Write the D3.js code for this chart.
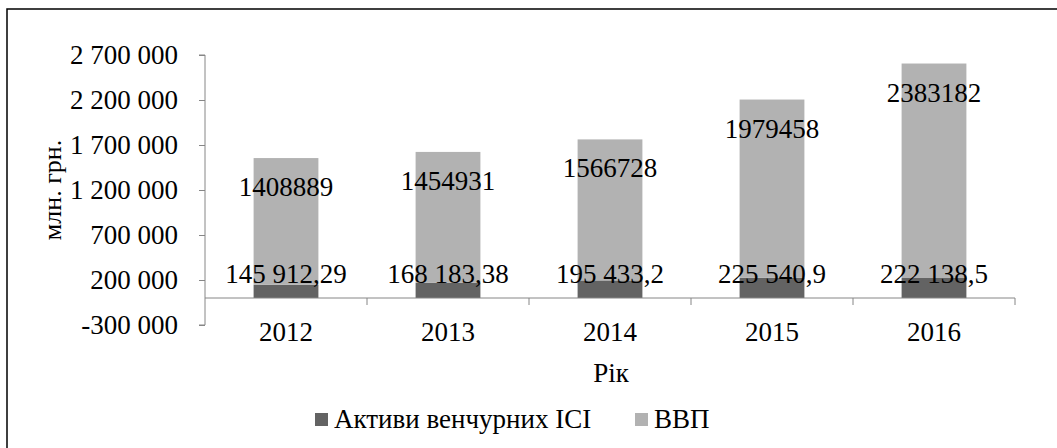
<!DOCTYPE html>
<html>
<head>
<meta charset="utf-8">
<script src="https://cdn.jsdelivr.net/npm/d3@7"></script>
</head>
<body style="margin:0; background:#fff">
<div id="chart"></div>
<script>
var years = ["2012", "2013", "2014", "2015", "2016"];
var assets = [145912.29, 168183.38, 195433.2, 225540.9, 222138.5];
var assetLabels = ["145 912,29", "168 183,38", "195 433,2", "225 540,9", "222 138,5"];
var gdp = [1408889, 1454931, 1566728, 1979458, 2383182];
var yTicks = [-300000, 200000, 700000, 1200000, 1700000, 2200000, 2700000];

var w = 1057, h = 448;
var darkColor = "#636363", lightColor = "#b2b2b2", axisColor = "#868686";
var font = "serif";

var svg = d3.select("#chart").append("svg")
    .attr("width", w)
    .attr("height", h)
    .style("font-family", font);

// outer frame (only left and top edges are in the picture)
svg.append("rect")
    .attr("x", 7).attr("y", 9)
    .attr("width", w + 10).attr("height", h + 10)
    .attr("fill", "none")
    .attr("stroke", "#000")
    .attr("stroke-width", 1.5);

var xScale = d3.scaleBand()
    .domain(years)
    .range([205, 1015]);

var yScale = d3.scaleLinear()
    .domain([-300000, 2700000])
    .range([325, 55]);

var barW = xScale.bandwidth() * 0.4;

// y axis
var fmt = function(d){ return d3.format(",")(d).replace(/,/g, " ").replace("\u2212", "-"); };
var yAxis = svg.append("g")
    .attr("transform", "translate(205,0)")
    .call(d3.axisLeft(yScale).tickValues(yTicks).tickSize(6).tickPadding(21).tickFormat(fmt));
yAxis.attr("font-family", font).attr("font-size", "27px");
yAxis.selectAll("text")
    .attr("font-family", font)
    .attr("font-size", "27px")
    .attr("fill", "#000");
yAxis.selectAll("line, path").attr("stroke", axisColor);
yAxis.select("path").attr("d", "M-6," + yScale(2700000) + "H0V" + yScale(-300000) + "H-6");

// bars
var groups = svg.selectAll(".bar").data(years).enter().append("g");

groups.append("rect")
    .attr("x", function(d){ return xScale(d) + (xScale.bandwidth() - barW) / 2; })
    .attr("y", function(d, i){ return yScale(assets[i]); })
    .attr("width", barW)
    .attr("height", function(d, i){ return yScale(0) - yScale(assets[i]); })
    .attr("fill", darkColor);

groups.append("rect")
    .attr("x", function(d){ return xScale(d) + (xScale.bandwidth() - barW) / 2; })
    .attr("y", function(d, i){ return yScale(assets[i] + gdp[i]); })
    .attr("width", barW)
    .attr("height", function(d, i){ return yScale(assets[i]) - yScale(assets[i] + gdp[i]); })
    .attr("fill", lightColor);

// x axis at zero
var xAxis = svg.append("g")
    .attr("transform", "translate(0," + yScale(0) + ")");
xAxis.append("line")
    .attr("x1", 205).attr("x2", 1015)
    .attr("stroke", axisColor);
xAxis.selectAll(".tk").data(years).enter().append("line")
    .attr("x1", function(d){ return xScale(d) + xScale.bandwidth(); })
    .attr("x2", function(d){ return xScale(d) + xScale.bandwidth(); })
    .attr("y1", 0).attr("y2", 7)
    .attr("stroke", axisColor);
svg.selectAll(".xl").data(years).enter().append("text")
    .attr("x", function(d){ return xScale(d) + xScale.bandwidth() / 2; })
    .attr("y", 341)
    .attr("text-anchor", "middle")
    .attr("font-family", font)
    .attr("font-size", "27px")
    .text(function(d){ return d; });

// data labels
groups.append("text")
    .attr("x", function(d){ return xScale(d) + xScale.bandwidth() / 2; })
    .attr("y", function(d, i){ return yScale(assets[i] + gdp[i]) + 38; })
    .attr("text-anchor", "middle")
    .attr("font-family", font)
    .attr("font-size", "27px")
    .text(function(d, i){ return gdp[i]; });

groups.append("text")
    .attr("x", function(d){ return xScale(d) + xScale.bandwidth() / 2; })
    .attr("y", yScale(0) - 15)
    .attr("text-anchor", "middle")
    .attr("font-family", font)
    .attr("font-size", "27px")
    .text(function(d, i){ return assetLabels[i]; });

// axis titles
svg.append("text")
    .attr("transform", "translate(55,190) rotate(-90)")
    .attr("text-anchor", "middle")
    .attr("dominant-baseline", "middle")
    .attr("font-family", font)
    .attr("font-size", "26px")
    .text("млн. грн.");

svg.append("text")
    .attr("x", 611).attr("y", 382)
    .attr("text-anchor", "middle")
    .attr("font-family", font)
    .attr("font-size", "27px")
    .text("Рік");

// legend
var legend = [
  {name: "Активи венчурних ІСІ", color: darkColor, x: 315},
  {name: "ВВП", color: lightColor, x: 635}
];
var lg = svg.selectAll(".lg").data(legend).enter().append("g");
lg.append("rect")
    .attr("x", function(d){ return d.x; }).attr("y", 413)
    .attr("width", 13).attr("height", 13)
    .attr("fill", function(d){ return d.color; });
lg.append("text")
    .attr("x", function(d){ return d.x + 19; }).attr("y", 428)
    .attr("font-family", font)
    .attr("font-size", "27px")
    .text(function(d){ return d.name; });
</script>
</body>
</html>
